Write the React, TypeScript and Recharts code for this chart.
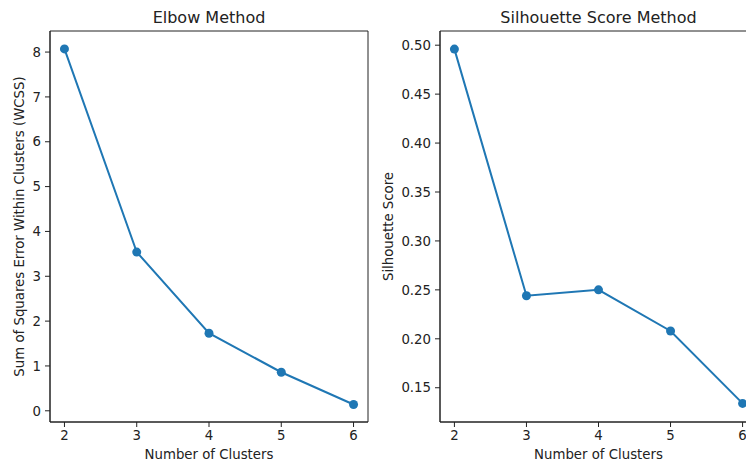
import React from 'react';
import { LineChart, Line, XAxis, YAxis, ReferenceArea } from 'recharts';

const clusters = [2, 3, 4, 5, 6];
const wcss = [8.07, 3.54, 1.73, 0.86, 0.14];
const silhouette = [0.496, 0.244, 0.25, 0.208, 0.134];
const xTicks = [2, 3, 4, 5, 6];
const wcssTicks = [0, 1, 2, 3, 4, 5, 6, 7, 8];
const silTicks = [0.15, 0.2, 0.25, 0.3, 0.35, 0.4, 0.45, 0.5];

const FONT = '"DejaVu Sans", sans-serif';
const BLUE = '#1f77b4';
const INK = '#222';

const xDomain: [number, number] = [1.8, 6.2];
const wcssDomain: [number, number] = [-0.25, 8.47];
const silDomain: [number, number] = [0.115, 0.5145];

const elbowData = clusters.map((k, i) => ({ k, v: wcss[i] }));
const silData = clusters.map((k, i) => ({ k, v: silhouette[i] }));

const tickStyle = { fontSize: 13.3, fill: INK, fontFamily: FONT };

const xLabel = (props: any) => {
  const vb = props.viewBox;
  return (
    <text x={vb.x + vb.width / 2} y={vb.y + vb.height - 4} textAnchor="middle" fontSize={13.3} fill={INK} fontFamily={FONT}>
      Number of Clusters
    </text>
  );
};

const yLabel = (text: string, dx: number) => (props: any) => {
  const vb = props.viewBox;
  const x = vb.x + dx;
  const y = vb.y + vb.height / 2;
  return (
    <text x={x} y={y} transform={`rotate(-90, ${x}, ${y})`} textAnchor="middle" dominantBaseline="central" fontSize={13.3} fill={INK} fontFamily={FONT}>
      {text}
    </text>
  );
};

function Panel({ data, domain, ticks, title, ylabel, labelX, yWidth, width, fmt }: any) {
  return (
    <div style={{ position: 'relative', width, height: 463 }}>
      <div style={{ position: 'absolute', left: yWidth, width: width - yWidth - 13, top: 8, textAlign: 'center', fontFamily: FONT, fontSize: 16, color: INK, lineHeight: 'normal' }}>
        {title}
      </div>
      <LineChart width={width} height={463} data={data} margin={{ top: 31, right: 13, bottom: 0, left: 0 }}>
        <XAxis dataKey="k" type="number" domain={xDomain} ticks={xTicks} height={41} tickSize={5} tickMargin={4}
          tick={tickStyle} stroke={INK} label={xLabel} />
        <YAxis type="number" domain={domain} ticks={ticks} width={yWidth} tickSize={5} tickMargin={4}
          tick={tickStyle} stroke={INK} tickFormatter={fmt} label={yLabel(ylabel, labelX)} />
        <ReferenceArea x1={xDomain[0]} x2={xDomain[1]} y1={domain[0]} y2={domain[1]} fill="none" stroke={INK} strokeWidth={1} ifOverflow="visible" />
        <Line dataKey="v" stroke={BLUE} strokeWidth={2} isAnimationActive={false}
          dot={{ r: 4.5, fill: BLUE, stroke: 'none' }} activeDot={false} />
      </LineChart>
    </div>
  );
}

export default function App() {
  return (
    <div style={{ position: 'fixed', left: 0, top: 0, width: 746, height: 463, overflow: 'hidden', background: '#fff' }}>
      <div style={{ position: 'absolute', left: 0, top: 0 }}>
        <Panel data={elbowData} domain={wcssDomain} ticks={wcssTicks} title="Elbow Method"
          ylabel="Sum of Squares Error Within Clusters (WCSS)" labelX={19} yWidth={50} width={381}
          fmt={(v: number) => String(v)} />
      </div>
      <div style={{ position: 'absolute', left: 380, top: 0 }}>
        <Panel data={silData} domain={silDomain} ticks={silTicks} title="Silhouette Score Method"
          ylabel="Silhouette Score" labelX={8.5} yWidth={60} width={390}
          fmt={(v: number) => v.toFixed(2)} />
      </div>
    </div>
  );
}
